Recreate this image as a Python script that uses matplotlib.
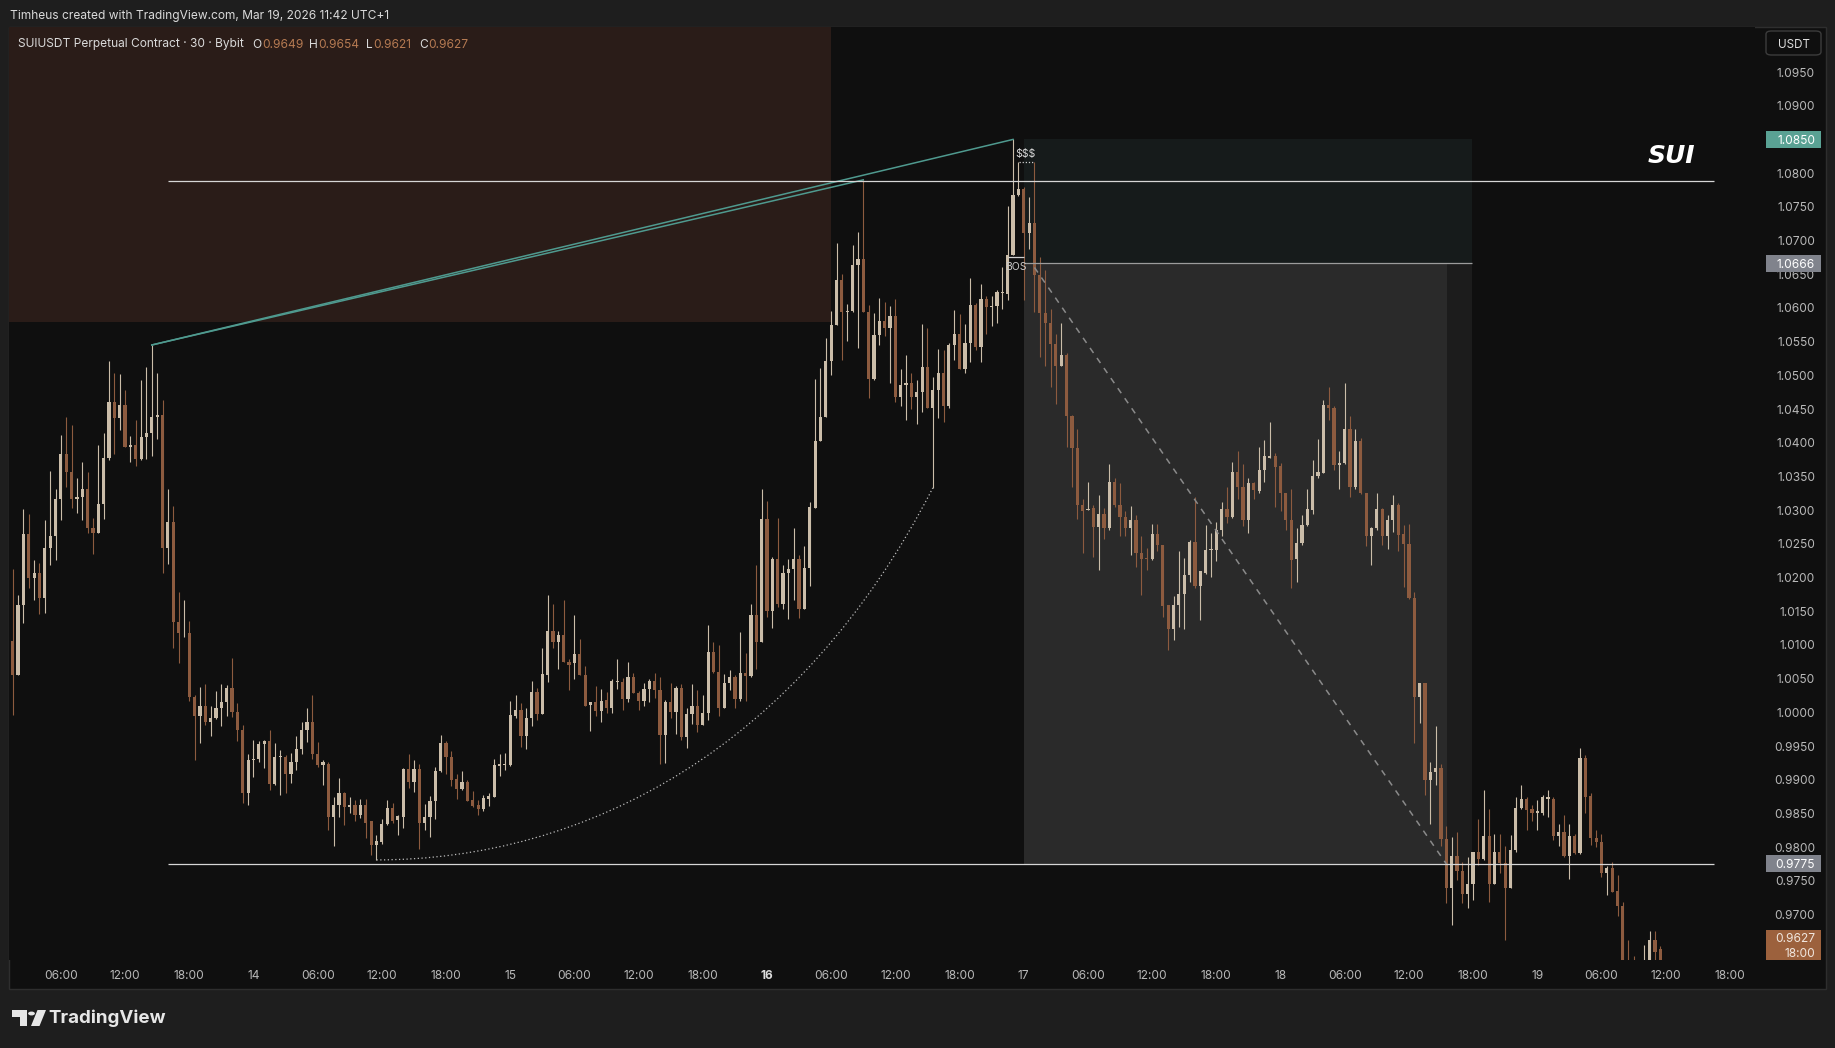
import numpy as np
import matplotlib.pyplot as plt
import matplotlib.transforms as mtransforms
from matplotlib.patches import Rectangle, FancyBboxPatch, Polygon, Circle, PathPatch
from matplotlib.path import Path

W, H = 1835, 1048
plt.rcParams['font.family'] = ['Inter', 'DejaVu Sans']

# SUIUSDT 30m bars, x = number of half hours since Mar 13 00:00
first_bar = 3

opens = [
    1.0106, 1.0055, 1.0159, 1.0264, 1.0199, 1.0206, 1.0169, 1.0244, 1.0261, 1.0317,
    1.0383, 1.0357, 1.0316, 1.0319, 1.0331, 1.0273, 1.0266, 1.0309, 1.0377, 1.0461,
    1.0437, 1.0456, 1.0393, 1.0396, 1.0376, 1.0408, 1.0415, 1.0438, 1.0441, 1.0244,
    1.0282, 1.0134, 1.0117, 1.0118, 1.0023, 0.9994, 1.0010, 0.9985, 0.9991, 1.0006,
    1.0015, 1.0036, 1.0000, 0.9974, 0.9881, 0.9929, 0.9930, 0.9953, 0.9958, 0.9893,
    0.9934, 0.9934, 0.9909, 0.9927, 0.9945, 0.9974, 0.9985, 0.9938, 0.9922, 0.9924,
    0.9844, 0.9863, 0.9881, 0.9860, 0.9863, 0.9848, 0.9863, 0.9838, 0.9803, 0.9807,
    0.9835, 0.9858, 0.9840, 0.9845, 0.9916, 0.9896, 0.9916, 0.9836, 0.9844, 0.9868,
    0.9913, 0.9955, 0.9934, 0.9901, 0.9886, 0.9897, 0.9870, 0.9863, 0.9857, 0.9872,
    0.9875, 0.9921, 0.9922, 0.9922, 0.9995, 1.0004, 0.9965, 0.9991, 1.0030, 0.9997,
    1.0055, 1.0120, 1.0105, 1.0115, 1.0074, 1.0073, 1.0087, 1.0056, 1.0011, 1.0015,
    1.0002, 1.0019, 1.0006, 1.0045, 1.0045, 1.0020, 1.0053, 1.0029, 1.0017, 1.0035,
    1.0047, 1.0033, 0.9967, 1.0015, 1.0001, 1.0036, 0.9963, 0.9997, 1.0010, 0.9981,
    0.9999, 1.0090, 1.0060, 1.0007, 1.0044, 1.0053, 1.0020, 1.0059, 1.0054, 1.0144,
    1.0105, 1.0287, 1.0151, 1.0227, 1.0161, 1.0206, 1.0212, 1.0227, 1.0154, 1.0214,
    1.0303, 1.0402, 1.0438, 1.0521, 1.0575, 1.0641, 1.0594, 1.0596, 1.0663, 1.0672,
    1.0594, 1.0494, 1.0560, 1.0580, 1.0570, 1.0588, 1.0468, 1.0486, 1.0488, 1.0468,
    1.0475, 1.0513, 1.0451, 1.0478, 1.0504, 1.0455, 1.0545, 1.0562, 1.0510, 1.0548,
    1.0604, 1.0542, 1.0613, 1.0602, 1.0603, 1.0622, 1.0620, 1.0679, 1.0768, 1.0777,
    1.0711, 1.0726, 1.0649, 1.0593, 1.0578, 1.0547, 1.0514, 1.0530, 1.0440, 1.0392,
    1.0308, 1.0300, 1.0303, 1.0275, 1.0294, 1.0273, 1.0342, 1.0308, 1.0290, 1.0274,
    1.0286, 1.0236, 1.0229, 1.0227, 1.0265, 1.0248, 1.0159, 1.0123, 1.0159, 1.0176,
    1.0204, 1.0253, 1.0187, 1.0206, 1.0241, 1.0241, 1.0270, 1.0301, 1.0290, 1.0357,
    1.0335, 1.0285, 1.0340, 1.0329, 1.0360, 1.0378, 1.0380, 1.0365, 1.0325, 1.0285,
    1.0227, 1.0251, 1.0278, 1.0300, 1.0350, 1.0355, 1.0456, 1.0451, 1.0367, 1.0370,
    1.0420, 1.0334, 1.0403, 1.0325, 1.0261, 1.0273, 1.0301, 1.0261, 1.0285, 1.0308,
    1.0265, 1.0250, 1.0169, 1.0022, 1.0043, 0.9900, 0.9911, 0.9918, 0.9812, 0.9740,
    0.9787, 0.9765, 0.9731, 0.9745, 0.9792, 0.9782, 0.9816, 0.9746, 0.9792, 0.9776,
    0.9740, 0.9795, 0.9858, 0.9872, 0.9856, 0.9851, 0.9850, 0.9872, 0.9872, 0.9816,
    0.9823, 0.9787, 0.9816, 0.9791, 0.9932, 0.9876, 0.9814, 0.9808, 0.9761, 0.9769,
    0.9735, 0.9712, 0.9615, 0.9600, 0.9595, 0.9610, 0.9625, 0.9662, 0.9649,
]

highs = [
    1.0212, 1.0174, 1.0302, 1.0294, 1.0226, 1.0221, 1.0285, 1.0358, 1.0332, 1.0411,
    1.0438, 1.0427, 1.0347, 1.0372, 1.0357, 1.0289, 1.0396, 1.0414, 1.0521, 1.0503,
    1.0502, 1.0478, 1.0410, 1.0433, 1.0493, 1.0512, 1.0545, 1.0503, 1.0463, 1.0332,
    1.0306, 1.0178, 1.0166, 1.0136, 1.0026, 1.0037, 1.0042, 1.0010, 1.0031, 1.0042,
    1.0041, 1.0081, 1.0014, 0.9981, 0.9938, 0.9959, 0.9957, 0.9959, 0.9974, 0.9955,
    0.9944, 0.9937, 0.9939, 0.9965, 0.9985, 1.0006, 1.0026, 0.9956, 0.9929, 0.9926,
    0.9874, 0.9902, 0.9882, 0.9875, 0.9870, 0.9871, 0.9872, 0.9839, 0.9818, 0.9841,
    0.9870, 0.9866, 0.9848, 0.9918, 0.9938, 0.9929, 0.9923, 0.9864, 0.9876, 0.9919,
    0.9966, 0.9957, 0.9943, 0.9909, 0.9913, 0.9900, 0.9883, 0.9870, 0.9877, 0.9881,
    0.9930, 0.9938, 0.9940, 1.0017, 1.0026, 1.0014, 1.0006, 1.0046, 1.0036, 1.0096,
    1.0174, 1.0161, 1.0121, 1.0167, 1.0079, 1.0145, 1.0109, 1.0069, 1.0016, 1.0039,
    1.0034, 1.0030, 1.0049, 1.0079, 1.0051, 1.0074, 1.0058, 1.0031, 1.0044, 1.0049,
    1.0059, 1.0052, 1.0019, 1.0044, 1.0039, 1.0042, 1.0007, 1.0042, 1.0033, 1.0026,
    1.0129, 1.0105, 1.0100, 1.0057, 1.0063, 1.0055, 1.0119, 1.0088, 1.0161, 1.0218,
    1.0331, 1.0313, 1.0231, 1.0288, 1.0218, 1.0227, 1.0274, 1.0234, 1.0247, 1.0312,
    1.0495, 1.0511, 1.0556, 1.0595, 1.0696, 1.0650, 1.0606, 1.0693, 1.0712, 1.0790,
    1.0604, 1.0592, 1.0614, 1.0609, 1.0603, 1.0613, 1.0509, 1.0530, 1.0503, 1.0493,
    1.0576, 1.0570, 1.0498, 1.0539, 1.0537, 1.0548, 1.0597, 1.0591, 1.0576, 1.0645,
    1.0608, 1.0635, 1.0618, 1.0617, 1.0626, 1.0660, 1.0751, 1.0850, 1.0816, 1.0780,
    1.0764, 1.0816, 1.0676, 1.0656, 1.0598, 1.0562, 1.0578, 1.0533, 1.0441, 1.0420,
    1.0317, 1.0342, 1.0308, 1.0322, 1.0303, 1.0369, 1.0347, 1.0340, 1.0298, 1.0306,
    1.0293, 1.0262, 1.0244, 1.0280, 1.0279, 1.0248, 1.0159, 1.0172, 1.0239, 1.0229,
    1.0256, 1.0320, 1.0210, 1.0278, 1.0266, 1.0282, 1.0312, 1.0335, 1.0372, 1.0387,
    1.0368, 1.0348, 1.0342, 1.0393, 1.0404, 1.0431, 1.0384, 1.0370, 1.0326, 1.0331,
    1.0273, 1.0293, 1.0331, 1.0375, 1.0405, 1.0463, 1.0483, 1.0454, 1.0387, 1.0488,
    1.0439, 1.0420, 1.0407, 1.0325, 1.0275, 1.0325, 1.0303, 1.0293, 1.0322, 1.0311,
    1.0278, 1.0280, 1.0178, 1.0043, 1.0043, 0.9927, 0.9980, 0.9923, 0.9832, 0.9815,
    0.9822, 0.9778, 0.9786, 0.9793, 0.9841, 0.9885, 0.9856, 0.9820, 0.9820, 0.9802,
    0.9818, 0.9874, 0.9892, 0.9874, 0.9862, 0.9870, 0.9877, 0.9885, 0.9874, 0.9835,
    0.9848, 0.9834, 0.9820, 0.9947, 0.9937, 0.9881, 0.9826, 0.9820, 0.9772, 0.9778,
    0.9759, 0.9719, 0.9662, 0.9638, 0.9625, 0.9655, 0.9675, 0.9675, 0.9654,
]

lows = [
    0.9996, 1.0055, 1.0133, 1.0184, 1.0167, 1.0146, 1.0147, 1.0218, 1.0226, 1.0285,
    1.0335, 1.0303, 1.0295, 1.0286, 1.0266, 1.0235, 1.0266, 1.0287, 1.0374, 1.0383,
    1.0419, 1.0393, 1.0371, 1.0365, 1.0374, 1.0376, 1.0381, 1.0406, 1.0207, 1.0220,
    1.0095, 1.0073, 1.0111, 1.0017, 0.9929, 0.9955, 0.9981, 0.9965, 0.9990, 0.9980,
    0.9995, 0.9993, 0.9957, 0.9865, 0.9862, 0.9904, 0.9926, 0.9918, 0.9884, 0.9892,
    0.9878, 0.9880, 0.9895, 0.9914, 0.9938, 0.9956, 0.9931, 0.9919, 0.9892, 0.9826,
    0.9802, 0.9845, 0.9833, 0.9850, 0.9838, 0.9843, 0.9813, 0.9788, 0.9781, 0.9805,
    0.9833, 0.9836, 0.9818, 0.9829, 0.9887, 0.9882, 0.9797, 0.9825, 0.9815, 0.9842,
    0.9912, 0.9909, 0.9891, 0.9872, 0.9885, 0.9869, 0.9860, 0.9848, 0.9854, 0.9861,
    0.9874, 0.9906, 0.9914, 0.9921, 0.9991, 0.9948, 0.9946, 0.9980, 0.9988, 0.9997,
    1.0045, 1.0095, 1.0065, 1.0074, 1.0033, 1.0049, 1.0055, 1.0009, 0.9973, 0.9994,
    0.9986, 0.9999, 0.9999, 1.0035, 1.0003, 1.0016, 1.0029, 1.0004, 1.0010, 1.0016,
    1.0021, 0.9923, 0.9925, 0.9992, 0.9968, 0.9959, 0.9947, 0.9982, 0.9971, 0.9981,
    0.9989, 1.0058, 0.9994, 1.0006, 1.0033, 1.0006, 1.0017, 1.0017, 1.0053, 1.0065,
    1.0104, 1.0141, 1.0125, 1.0156, 1.0154, 1.0139, 1.0167, 1.0140, 1.0154, 1.0188,
    1.0303, 1.0402, 1.0438, 1.0501, 1.0574, 1.0522, 1.0551, 1.0594, 1.0540, 1.0594,
    1.0466, 1.0493, 1.0545, 1.0558, 1.0488, 1.0461, 1.0455, 1.0434, 1.0450, 1.0428,
    1.0445, 1.0451, 1.0333, 1.0436, 1.0431, 1.0452, 1.0523, 1.0509, 1.0504, 1.0520,
    1.0538, 1.0520, 1.0562, 1.0573, 1.0578, 1.0598, 1.0612, 1.0679, 1.0766, 1.0612,
    1.0687, 1.0594, 1.0527, 1.0514, 1.0483, 1.0458, 1.0514, 1.0393, 1.0335, 1.0287,
    1.0237, 1.0300, 1.0231, 1.0211, 1.0257, 1.0271, 1.0304, 1.0262, 1.0262, 1.0233,
    1.0216, 1.0174, 1.0211, 1.0226, 1.0240, 1.0142, 1.0093, 1.0108, 1.0126, 1.0123,
    1.0194, 1.0185, 1.0137, 1.0205, 1.0201, 1.0224, 1.0262, 1.0281, 1.0289, 1.0317,
    1.0277, 1.0266, 1.0316, 1.0326, 1.0342, 1.0377, 1.0304, 1.0298, 1.0270, 1.0184,
    1.0194, 1.0248, 1.0276, 1.0294, 1.0347, 1.0355, 1.0433, 1.0359, 1.0332, 1.0369,
    1.0320, 1.0332, 1.0324, 1.0247, 1.0219, 1.0271, 1.0248, 1.0243, 1.0268, 1.0240,
    1.0186, 1.0168, 0.9955, 0.9984, 0.9878, 0.9834, 0.9892, 0.9801, 0.9717, 0.9685,
    0.9751, 0.9717, 0.9710, 0.9721, 0.9773, 0.9781, 0.9718, 0.9745, 0.9761, 0.9662,
    0.9740, 0.9792, 0.9856, 0.9826, 0.9838, 0.9826, 0.9848, 0.9844, 0.9811, 0.9802,
    0.9786, 0.9752, 0.9790, 0.9790, 0.9851, 0.9803, 0.9800, 0.9755, 0.9729, 0.9733,
    0.9698, 0.9605, 0.9580, 0.9580, 0.9585, 0.9600, 0.9620, 0.9630, 0.9621,
]

closes = [
    1.0055, 1.0159, 1.0264, 1.0199, 1.0206, 1.0169, 1.0244, 1.0261, 1.0317, 1.0383,
    1.0357, 1.0316, 1.0319, 1.0331, 1.0273, 1.0266, 1.0309, 1.0377, 1.0461, 1.0437,
    1.0456, 1.0393, 1.0396, 1.0376, 1.0408, 1.0415, 1.0438, 1.0441, 1.0244, 1.0282,
    1.0134, 1.0117, 1.0118, 1.0023, 0.9994, 1.0010, 0.9985, 0.9991, 1.0006, 1.0015,
    1.0036, 1.0000, 0.9974, 0.9881, 0.9929, 0.9930, 0.9953, 0.9958, 0.9893, 0.9934,
    0.9935, 0.9909, 0.9927, 0.9945, 0.9974, 0.9985, 0.9938, 0.9922, 0.9927, 0.9844,
    0.9863, 0.9881, 0.9860, 0.9863, 0.9848, 0.9863, 0.9836, 0.9803, 0.9809, 0.9835,
    0.9858, 0.9838, 0.9846, 0.9916, 0.9896, 0.9916, 0.9836, 0.9845, 0.9868, 0.9913,
    0.9954, 0.9933, 0.9900, 0.9886, 0.9896, 0.9869, 0.9861, 0.9857, 0.9873, 0.9876,
    0.9922, 0.9923, 0.9923, 0.9996, 1.0004, 0.9965, 0.9992, 1.0030, 0.9997, 1.0057,
    1.0120, 1.0105, 1.0115, 1.0074, 1.0070, 1.0087, 1.0056, 1.0010, 1.0015, 1.0002,
    1.0017, 1.0006, 1.0047, 1.0047, 1.0020, 1.0053, 1.0029, 1.0017, 1.0035, 1.0047,
    1.0033, 0.9967, 1.0015, 1.0001, 1.0036, 0.9963, 0.9997, 1.0010, 0.9981, 0.9999,
    1.0090, 1.0060, 1.0007, 1.0044, 1.0053, 1.0020, 1.0059, 1.0054, 1.0144, 1.0105,
    1.0287, 1.0151, 1.0227, 1.0161, 1.0206, 1.0212, 1.0227, 1.0154, 1.0214, 1.0305,
    1.0402, 1.0438, 1.0521, 1.0574, 1.0641, 1.0594, 1.0596, 1.0664, 1.0672, 1.0594,
    1.0494, 1.0560, 1.0580, 1.0570, 1.0588, 1.0468, 1.0486, 1.0488, 1.0468, 1.0475,
    1.0513, 1.0451, 1.0478, 1.0504, 1.0455, 1.0545, 1.0562, 1.0510, 1.0548, 1.0604,
    1.0542, 1.0613, 1.0602, 1.0603, 1.0623, 1.0623, 1.0679, 1.0768, 1.0777, 1.0711,
    1.0726, 1.0649, 1.0593, 1.0578, 1.0547, 1.0514, 1.0530, 1.0440, 1.0392, 1.0308,
    1.0299, 1.0301, 1.0275, 1.0294, 1.0273, 1.0342, 1.0308, 1.0290, 1.0274, 1.0286,
    1.0236, 1.0228, 1.0227, 1.0265, 1.0248, 1.0158, 1.0123, 1.0159, 1.0176, 1.0204,
    1.0253, 1.0187, 1.0209, 1.0241, 1.0242, 1.0270, 1.0301, 1.0290, 1.0357, 1.0335,
    1.0285, 1.0340, 1.0330, 1.0360, 1.0380, 1.0380, 1.0364, 1.0325, 1.0285, 1.0226,
    1.0251, 1.0278, 1.0301, 1.0350, 1.0356, 1.0456, 1.0451, 1.0367, 1.0370, 1.0420,
    1.0334, 1.0403, 1.0325, 1.0261, 1.0273, 1.0301, 1.0261, 1.0285, 1.0308, 1.0263,
    1.0250, 1.0169, 1.0022, 1.0043, 0.9900, 0.9911, 0.9918, 0.9812, 0.9740, 0.9787,
    0.9765, 0.9731, 0.9745, 0.9792, 0.9782, 0.9816, 0.9746, 0.9792, 0.9776, 0.9740,
    0.9795, 0.9858, 0.9872, 0.9855, 0.9851, 0.9853, 0.9874, 0.9874, 0.9816, 0.9823,
    0.9787, 0.9816, 0.9791, 0.9932, 0.9875, 0.9814, 0.9808, 0.9761, 0.9769, 0.9733,
    0.9712, 0.9615, 0.9590, 0.9595, 0.9610, 0.9625, 0.9662, 0.9645, 0.9627,
]

time_labels = ["06:00", "12:00", "18:00", "14", "06:00", "12:00", "18:00", "15",
               "06:00", "12:00", "18:00", "16", "06:00", "12:00", "18:00", "17",
               "06:00", "12:00", "18:00", "18", "06:00", "12:00", "18:00", "19",
               "06:00", "12:00", "18:00"]
price_levels = [1.0950, 1.0900, 1.0850, 1.0800, 1.0750, 1.0700, 1.0650, 1.0600,
                1.0550, 1.0500, 1.0450, 1.0400, 1.0350, 1.0300, 1.0250, 1.0200,
                1.0150, 1.0100, 1.0050, 1.0000, 0.9950, 0.9900, 0.9850, 0.9800,
                0.9750, 0.9700]

assert len(opens) == len(highs) == len(lows) == len(closes)
o, h, l, c = map(np.array, (opens, highs, lows, closes))
x = np.arange(first_bar, first_bar + len(o))

UP, DOWN = '#cbbda9', '#8d5b3f'
BG = '#0f0f0f'

fig = plt.figure(figsize=(W / 100, H / 100), dpi=100, facecolor='#1e1e1e')
fig.patches.append(Rectangle((9 / W, 1 - 989 / H), 1817 / W, 962 / H, transform=fig.transFigure,
                             facecolor=BG, edgecolor='#2e2e2e', lw=1, zorder=-10))
ax = fig.add_axes([9 / W, 1 - 960 / H, 1746 / W, 933 / H])
ax.set_facecolor(BG)
ax.set_xlim(2.3, 328.7)
ax.set_ylim(0.96325, 1.10168)
for s in ax.spines.values():
    s.set_visible(False)

# zones
ax.add_patch(Rectangle((2.3, 1.0579), 156.0 - 2.3, 0.05, facecolor='#2a1c18', lw=0, zorder=1))
ax.add_patch(Rectangle((192.0, 1.0666), 83.8, 1.0850 - 1.0666, facecolor='#161b1b', lw=0, zorder=1))
ax.add_patch(Rectangle((192.0, 0.9775), 83.8, 1.0666 - 0.9775, facecolor='#1c1c1c', lw=0, zorder=1))
ax.add_patch(Rectangle((192.0, 0.9775), 79.1, 1.0666 - 0.9775, facecolor='#2a2a2a', lw=0, zorder=1))

# candles
up = c >= o
cols = np.where(up, UP, DOWN)
body_lo = np.minimum(o, c)
body_h = np.maximum(np.abs(c - o), 0.00014)
ax.vlines(x, l, h, colors=cols, linewidth=0.8, zorder=3)
ax.bar(x, body_h, bottom=body_lo, width=0.6, color=cols, linewidth=0, zorder=3)

# drawings
teal = '#4f9a8f'
ax.plot([29, 162], [1.0545, 1.0790], color=teal, lw=1.1, zorder=4)
ax.plot([29, 190], [1.0545, 1.0850], color=teal, lw=1.1, zorder=4)
ax.hlines([1.0788, 0.9775], 32, 321, color='#d6d6d6', lw=0.9, zorder=4)
ax.hlines(1.0666, 192.0, 275.8, color='#9c9c9c', lw=0.9, zorder=4)
ax.plot([194, 271], [1.0660, 0.9775], color='#8a8a8a', lw=1.1, ls=(0, (4, 4)), zorder=4)
ax.hlines(1.0676, 189, 192.1, color='#cfcfcf', lw=0.9, zorder=4)
ax.text(190.6, 1.0661, 'BOS', color='#c8c8c8', fontsize=7.5, ha='center', va='center', zorder=5)
ax.hlines(1.0816, 191.2, 194, color='#cfcfcf', lw=0.9, ls=(0, (1, 1.5)), zorder=4)
ax.text(192.4, 1.0828, '$$$', color='#d8d8d8', fontsize=7.5, ha='center', va='center', zorder=5)
curve = Path([(71, 0.9781), (110, 0.9781), (150, 0.9945), (175, 1.0333)],
             [Path.MOVETO, Path.CURVE4, Path.CURVE4, Path.CURVE4])
ax.add_patch(PathPatch(curve, facecolor='none', edgecolor='#bdbdbd', lw=0.9,
                       ls=(0, (1, 2)), zorder=4))
ax.text(313, 1.0826, 'SUI', color='white', fontsize=18, fontweight='bold', fontstyle='italic',
        family='DejaVu Sans', ha='center', va='center', zorder=5)

# time axis
ax.set_xticks(np.arange(12, 325, 12))
ax.set_xticklabels(time_labels)
ax.set_yticks([])
ax.tick_params(axis='x', length=0, pad=7, colors='#b8b8b8', labelsize=8.6)
for lbl in ax.get_xticklabels():
    if lbl.get_text() == '16':
        lbl.set_fontweight('bold')
        lbl.set_color('#dcdcdc')

# price axis
ty = mtransforms.blended_transform_factory(fig.transFigure, ax.transData)
px = 933 / (1.10168 - 0.96325)
for p in price_levels:
    ax.text(1815 / W, p, f'{p:.4f}', transform=ty, ha='right', va='center_baseline',
            color='#b8b8b8', fontsize=8.6, clip_on=False)


def tag(price, label, face):
    half = 8.5 / px
    ax.add_patch(Rectangle((1766 / W, price - half), 55 / W, 2 * half, transform=ty,
                           facecolor=face, lw=0, clip_on=False, zorder=6))
    ax.text(1815 / W, price, label, transform=ty, ha='right', va='center_baseline',
            color='white', fontsize=8.6, clip_on=False, zorder=7)


tag(1.0850, '1.0850', '#5aa294')
tag(1.0666, '1.0666', '#80838c')
tag(0.9775, '0.9775', '#80838c')
ax.add_patch(Rectangle((1766 / W, 0.96325), 55 / W, 30 / px, transform=ty,
                       facecolor='#9c613d', lw=0, clip_on=False, zorder=6))
ax.text(1815 / W, 0.96325 + 22.3 / px, f'{closes[-1]:.4f}', transform=ty, ha='right',
        va='center_baseline', color='#f0e6de', fontsize=8.6, clip_on=False, zorder=7)
ax.text(1815 / W, 0.96325 + 7.7 / px, '18:00', transform=ty, ha='right',
        va='center_baseline', color='#f0e6de', fontsize=8.6, clip_on=False, zorder=7)

fig.patches.append(FancyBboxPatch((1766 / W, 1 - 55 / H), 55 / W, 24 / H,
                                  boxstyle='round,pad=0,rounding_size=0.003',
                                  transform=fig.transFigure, facecolor=BG,
                                  edgecolor='#3c3c3c', lw=1))
fig.text(1793.5 / W, 1 - 43 / H, 'USDT', color='#e0e0e0', fontsize=8.4, ha='center',
         va='center_baseline')

# header texts
fig.text(10 / W, 1 - 15 / H, 'Timheus created with TradingView.com, Mar 19, 2026 11:42 UTC+1',
         color='#dadada', fontsize=8.6, ha='left', va='center_baseline')
ohlc_x = [252.6, 262, 309, 318.4, 365.5, 373, 419, 428]
ohlc_txt = ['O', f'{opens[-1]:.4f}', 'H', f'{highs[-1]:.4f}', 'L', f'{lows[-1]:.4f}',
            'C', f'{closes[-1]:.4f}']
fig.text(18 / W, 1 - 43 / H, 'SUIUSDT Perpetual Contract · 30 · Bybit', color='#dadada',
         fontsize=8.6, ha='left', va='center_baseline')
for xp, t in zip(ohlc_x, ohlc_txt):
    fig.text(xp / W, 1 - 43 / H, t, color='#dadada' if len(t) == 1 else '#b57a52',
             fontsize=8.6, ha='left', va='center_baseline')

# TradingView logo
logo = '#e6e6e6'
pts = lambda q: [(a / W, 1 - b / H) for a, b in q]
fig.patches.append(Polygon(pts([(12, 1010), (27, 1010), (27, 1026), (20, 1026),
                                (20, 1017), (12, 1017)]), closed=True,
                           transform=fig.transFigure, facecolor=logo, lw=0))
fig.patches.append(Polygon(pts([(37.5, 1010), (46, 1010), (39.5, 1026), (31, 1026)]),
                           closed=True, transform=fig.transFigure, facecolor=logo, lw=0))
fig.patches.append(Circle((31.5 / W, 1 - 1013.5 / H), 3.4 / W,
                          transform=fig.transFigure, facecolor=logo, lw=0))
fig.text(48 / W, 1 - 1018 / H, 'TradingView', color=logo, fontsize=13.5,
         fontweight='bold', ha='left', va='center')

fig.savefig('out.png', dpi=100, facecolor=fig.get_facecolor())
